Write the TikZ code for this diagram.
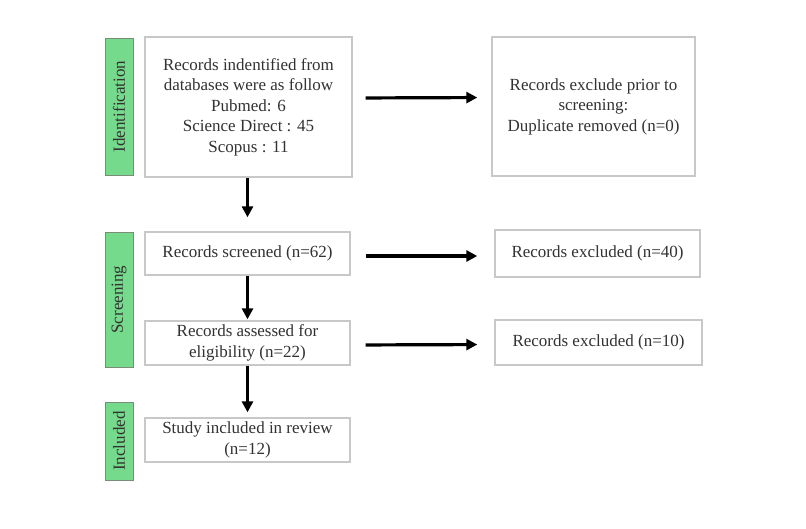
\documentclass[tikz,border=0pt]{standalone}
\usepackage{fontspec}
\setmainfont{Liberation Serif}
\usetikzlibrary{arrows.meta}
\definecolor{tabgreen}{RGB}{118,218,140}
\definecolor{tabedge}{RGB}{120,140,120}
\definecolor{boxedge}{RGB}{200,200,200}
\definecolor{txt}{RGB}{50,50,50}
\begin{document}
\begin{tikzpicture}[x=1pt,y=-1pt,
  every node/.style={font=\fontsize{17}{20.5}\selectfont, text=txt, align=center, inner sep=0pt},
  flowbox/.style={draw=boxedge, line width=1.4pt, fill=white},
  tabbox/.style={draw=tabedge, line width=1pt, fill=tabgreen, minimum width=28pt, rotate=90},
  arr/.style={line width=3.2pt, -{Triangle[length=11pt,width=11pt]}}]
\useasboundingbox (0,0) rectangle (806,528);
\fill[white] (0,0) rectangle (806,528);
% phase tabs
\node[tabbox, minimum height=28pt, minimum width=137pt] (tid) at (119,106.5) {Identification};
\node[tabbox, minimum height=28pt, minimum width=135pt] (tsc) at (119,299.5) {Screening};
\node[tabbox, minimum height=28pt, minimum width=78pt] (tin) at (119,441) {Included};
% boxes
\node[flowbox, minimum width=207pt, minimum height=140pt] (ident) at (248.5,107)
  {Records indentified from\\databases were as follow\\Pubmed: 6\\Science Direct : 45\\Scopus : 11};
\node[flowbox, minimum width=203pt, minimum height=139pt] (prior) at (593.5,106.5)
  {Records exclude prior to\\screening:\\Duplicate removed (n=0)};
\node[flowbox, minimum width=205pt, minimum height=43pt] (screen) at (247.5,253.5)
  {Records screened (n=62)};
\node[flowbox, minimum width=205pt, minimum height=44pt] (assess) at (247.5,343)
  {Records assessed for\\eligibility (n=22)};
\node[flowbox, minimum width=205pt, minimum height=44pt] (study) at (247.5,440)
  {Study included in review\\(n=12)};
\node[flowbox, minimum width=205pt, minimum height=47pt] (ex40) at (597.5,253.5)
  {Records excluded (n=40)};
\node[flowbox, minimum width=207pt, minimum height=45pt] (ex10) at (598.5,342.5)
  {Records excluded (n=10)};
% arrows
\draw[arr, shorten <=13pt, shorten >=14pt] ([yshift=9pt]ident.east) -- ([yshift=9pt]prior.west);
\draw[arr, shorten <=15pt, shorten >=17pt] ([yshift=-2.5pt]screen.east) -- ([yshift=-2.5pt]ex40.west);
\draw[arr, shorten <=15pt, shorten >=17pt] ([yshift=-2pt]assess.east) -- ([yshift=-2pt]ex10.west);
\draw[arr, shorten >=14pt] (screen.north |- ident.south) -- (screen.north);
\draw[arr, shorten >=1pt] (screen.south) -- (assess.north);
\draw[arr, shorten >=5pt] (assess.south) -- (study.north);
\end{tikzpicture}
\end{document}
